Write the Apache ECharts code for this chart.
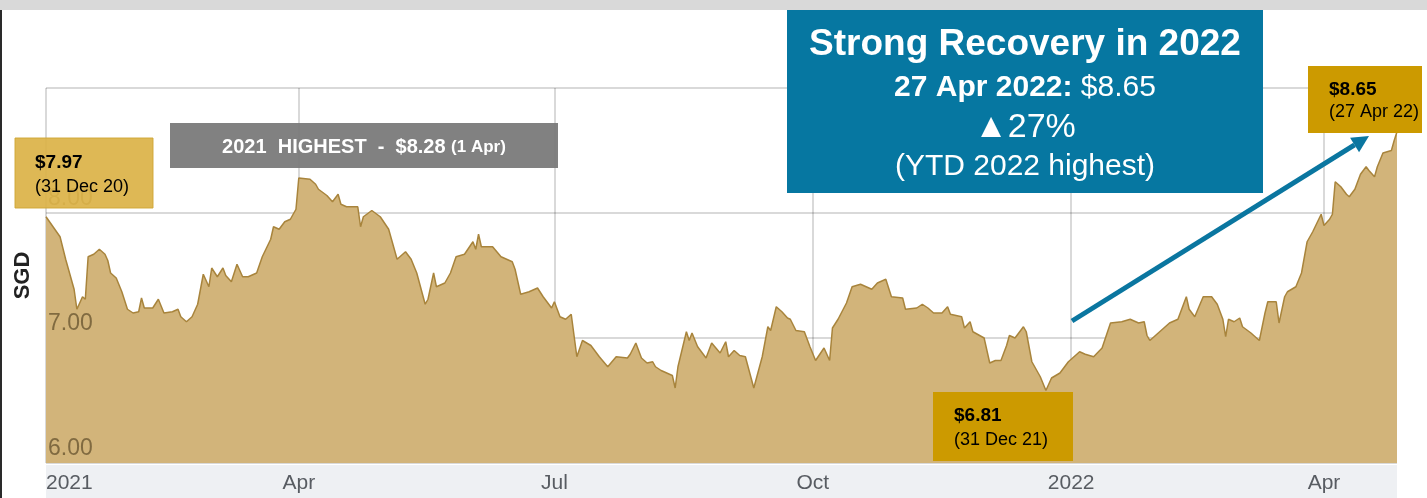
<!DOCTYPE html>
<html>
<head>
<meta charset="utf-8">
<script src="https://cdn.jsdelivr.net/npm/echarts@6/dist/echarts.min.js"></script>
<style>
html, body { margin: 0; padding: 0; background: #fff; }
#chart { width: 1427px; height: 498px; }
</style>
</head>
<body>
<div id="chart"></div>
<script>
// share price (SGD)
var priceDates = [
    '2021-01-01', '2021-01-06', '2021-01-08', '2021-01-11', '2021-01-12', '2021-01-14', '2021-01-15', '2021-01-16',
    '2021-01-18', '2021-01-20', '2021-01-22', '2021-01-23', '2021-01-24', '2021-01-26', '2021-01-28', '2021-01-30',
    '2021-02-01', '2021-02-03', '2021-02-04', '2021-02-05', '2021-02-08', '2021-02-10', '2021-02-12', '2021-02-15',
    '2021-02-17', '2021-02-18', '2021-02-20', '2021-02-22', '2021-02-24', '2021-02-26', '2021-02-28', '2021-03-01',
    '2021-03-03', '2021-03-05', '2021-03-06', '2021-03-08', '2021-03-10', '2021-03-12', '2021-03-14', '2021-03-17',
    '2021-03-19', '2021-03-22', '2021-03-23', '2021-03-25', '2021-03-27', '2021-03-29', '2021-03-31', '2021-04-01',
    '2021-04-05', '2021-04-07', '2021-04-08', '2021-04-11', '2021-04-13', '2021-04-15', '2021-04-16', '2021-04-18',
    '2021-04-22', '2021-04-23', '2021-04-24', '2021-04-27', '2021-04-30', '2021-05-03', '2021-05-04', '2021-05-06',
    '2021-05-09', '2021-05-11', '2021-05-13', '2021-05-16', '2021-05-17', '2021-05-19', '2021-05-20', '2021-05-23',
    '2021-05-25', '2021-05-27', '2021-05-30', '2021-06-02', '2021-06-03', '2021-06-04', '2021-06-05', '2021-06-09',
    '2021-06-12', '2021-06-16', '2021-06-17', '2021-06-19', '2021-06-22', '2021-06-25', '2021-06-27', '2021-06-30',
    '2021-07-01', '2021-07-03', '2021-07-05', '2021-07-07', '2021-07-09', '2021-07-11', '2021-07-14', '2021-07-17',
    '2021-07-20', '2021-07-23', '2021-07-27', '2021-07-28', '2021-07-30', '2021-08-01', '2021-08-03', '2021-08-05',
    '2021-08-06', '2021-08-08', '2021-08-12', '2021-08-13', '2021-08-14', '2021-08-17', '2021-08-18', '2021-08-19',
    '2021-08-21', '2021-08-22', '2021-08-24', '2021-08-26', '2021-08-29', '2021-08-31', '2021-09-01', '2021-09-03',
    '2021-09-05', '2021-09-07', '2021-09-10', '2021-09-13', '2021-09-15', '2021-09-16', '2021-09-18', '2021-09-20',
    '2021-09-22', '2021-09-23', '2021-09-25', '2021-09-28', '2021-09-30', '2021-10-02', '2021-10-05', '2021-10-07',
    '2021-10-08', '2021-10-10', '2021-10-13', '2021-10-15', '2021-10-18', '2021-10-20', '2021-10-22', '2021-10-24',
    '2021-10-27', '2021-10-29', '2021-11-02', '2021-11-03', '2021-11-07', '2021-11-09', '2021-11-11', '2021-11-13',
    '2021-11-16', '2021-11-18', '2021-11-19', '2021-11-23', '2021-11-24', '2021-11-26', '2021-11-27', '2021-12-01',
    '2021-12-03', '2021-12-05', '2021-12-07', '2021-12-09', '2021-12-10', '2021-12-12', '2021-12-15', '2021-12-16',
    '2021-12-18', '2021-12-21', '2021-12-23', '2021-12-25', '2021-12-28', '2021-12-30', '2021-12-31', '2022-01-04',
    '2022-01-06', '2022-01-09', '2022-01-12', '2022-01-15', '2022-01-19', '2022-01-22', '2022-01-25', '2022-01-27',
    '2022-01-28', '2022-01-29', '2022-02-01', '2022-02-05', '2022-02-08', '2022-02-11', '2022-02-12', '2022-02-14',
    '2022-02-17', '2022-02-20', '2022-02-22', '2022-02-24', '2022-02-25', '2022-02-26', '2022-02-28', '2022-03-02',
    '2022-03-03', '2022-03-06', '2022-03-09', '2022-03-11', '2022-03-12', '2022-03-15', '2022-03-16', '2022-03-18',
    '2022-03-19', '2022-03-22', '2022-03-24', '2022-03-26', '2022-03-28', '2022-03-31', '2022-04-01', '2022-04-03',
    '2022-04-04', '2022-04-05', '2022-04-07', '2022-04-09', '2022-04-10', '2022-04-12', '2022-04-14', '2022-04-16',
    '2022-04-17', '2022-04-19', '2022-04-20', '2022-04-22', '2022-04-25', '2022-04-26', '2022-04-27'
];
var priceValues = [
    7.97, 7.81, 7.63, 7.39, 7.23, 7.33, 7.31, 7.65,
    7.67, 7.71, 7.67, 7.62, 7.52, 7.48, 7.37, 7.23,
    7.20, 7.21, 7.32, 7.24, 7.24, 7.31, 7.20, 7.21,
    7.23, 7.17, 7.13, 7.17, 7.27, 7.51, 7.41, 7.56,
    7.49, 7.56, 7.50, 7.45, 7.59, 7.49, 7.49, 7.52,
    7.65, 7.79, 7.89, 7.87, 7.93, 7.95, 8.03, 8.28,
    8.27, 8.23, 8.19, 8.14, 8.09, 8.15, 8.07, 8.05,
    8.05, 7.89, 7.97, 8.02, 7.97, 7.87, 7.79, 7.63,
    7.69, 7.63, 7.52, 7.27, 7.31, 7.52, 7.41, 7.44,
    7.52, 7.65, 7.67, 7.77, 7.71, 7.83, 7.73, 7.73,
    7.65, 7.61, 7.55, 7.35, 7.37, 7.40, 7.33, 7.24,
    7.29, 7.17, 7.15, 7.19, 6.85, 6.98, 6.94, 6.85,
    6.77, 6.85, 6.84, 6.87, 6.96, 6.84, 6.80, 6.81,
    6.77, 6.74, 6.70, 6.60, 6.77, 7.05, 6.98, 7.04,
    6.93, 6.90, 6.84, 6.96, 6.88, 6.97, 6.85, 6.90,
    6.86, 6.85, 6.60, 6.85, 7.09, 7.06, 7.25, 7.21,
    7.16, 7.15, 7.06, 7.05, 6.93, 6.82, 6.92, 6.82,
    7.08, 7.15, 7.28, 7.41, 7.43, 7.41, 7.39, 7.44,
    7.47, 7.33, 7.32, 7.23, 7.24, 7.27, 7.24, 7.20,
    7.20, 7.25, 7.19, 7.17, 7.08, 7.13, 7.05, 7.00,
    6.80, 6.82, 6.82, 6.94, 7.02, 7.00, 7.09, 7.05,
    6.81, 6.69, 6.58, 6.68, 6.72, 6.78, 6.81, 6.89,
    6.87, 6.85, 6.92, 7.12, 7.13, 7.15, 7.12, 7.13,
    7.02, 6.98, 7.04, 7.12, 7.15, 7.33, 7.23, 7.17,
    7.33, 7.33, 7.27, 7.15, 7.01, 7.15, 7.13, 7.16,
    7.09, 7.04, 6.98, 7.20, 7.29, 7.29, 7.12, 7.33,
    7.37, 7.41, 7.52, 7.77, 7.85, 7.99, 7.90, 7.95,
    7.99, 8.25, 8.21, 8.15, 8.13, 8.19, 8.31, 8.37,
    8.34, 8.29, 8.37, 8.48, 8.50, 8.58, 8.65
];

var xTickDates = ['2021-01-01', '2021-04-01', '2021-07-01', '2021-10-01', '2022-01-01', '2022-04-01'];
var xTickLabels = ['2021', 'Apr', 'Jul', 'Oct', '2022', 'Apr'];
var xStart = '2021-01-01';
var xEnd = '2022-04-27';
var yMin = 6, yMax = 9, yStep = 1;

var FONT = '"Liberation Sans", Arial, sans-serif';

function toTime(s) {
    var p = s.split('-');
    return Date.UTC(+p[0], +p[1] - 1, +p[2]);
}

var tickTimes = xTickDates.map(toTime);
var seriesData = priceDates.map(function (d, i) { return [toTime(d), priceValues[i]]; });

// arrow head from two screen points
function arrowHead(from, to, len, half) {
    var dx = to[0] - from[0], dy = to[1] - from[1];
    var l = Math.sqrt(dx * dx + dy * dy);
    var ux = dx / l, uy = dy / l;
    var bx = to[0] - ux * len, by = to[1] - uy * len;
    return {
        base: [bx, by],
        points: [to, [bx - uy * half, by + ux * half], [bx + uy * half, by - ux * half]]
    };
}
var arrowFrom = [1072, 321], arrowTo = [1369, 136];
var head = arrowHead(arrowFrom, arrowTo, 17, 8.5);

function label(x, y, text, size, bold, color, align) {
    return {
        type: 'text', x: x, y: y, z: 20,
        style: {
            text: text, fill: color || '#000', fontSize: size, fontFamily: FONT,
            fontWeight: bold ? 'bold' : 'normal', align: align || 'left', verticalAlign: 'middle'
        }
    };
}
function box(x, y, w, h, fill, stroke, opacity) {
    return {
        type: 'rect', z: 15, shape: { x: x, y: y, width: w, height: h },
        style: { fill: fill, stroke: stroke || null, lineWidth: stroke ? 1 : 0, opacity: opacity || 1 }
    };
}

var chart = echarts.init(document.getElementById('chart'));

chart.setOption({
    animation: false,
    backgroundColor: '#fff',
    grid: { left: 46, right: 30, top: 88, bottom: 35 },
    xAxis: {
        type: 'value',
        min: toTime(xStart),
        max: toTime(xEnd),
        z: 3,
        axisLine: { show: false },
        axisTick: { show: false, customValues: tickTimes },
        axisLabel: {
            customValues: tickTimes,
            alignMinLabel: 'left',
            formatter: function (v) {
                for (var i = 0; i < tickTimes.length; i++) {
                    if (Math.abs(tickTimes[i] - v) < 43200000) return xTickLabels[i];
                }
                return '';
            },
            color: '#585c62', fontSize: 21, fontFamily: FONT, margin: 10
        },
        splitLine: { show: true, lineStyle: { color: 'rgba(0,0,0,0.15)', width: 2 } }
    },
    yAxis: {
        type: 'value',
        min: yMin, max: yMax, interval: yStep,
        z: 3,
        name: 'SGD',
        nameLocation: 'middle',
        nameRotate: 90,
        nameGap: 12,
        nameTextStyle: { fontWeight: 'bold', fontSize: 22, color: '#222', fontFamily: FONT },
        axisLine: { show: false },
        axisTick: { show: false },
        axisLabel: {
            inside: true,
            showMaxLabel: false,
            margin: 2,
            verticalAlign: 'bottom',
            padding: [0, 0, 3, 0],
            formatter: function (v) { return v.toFixed(2); },
            color: 'rgba(100,82,45,0.75)', fontSize: 23, fontFamily: FONT
        },
        splitLine: { lineStyle: { color: 'rgba(0,0,0,0.15)', width: 2 } }
    },
    series: [{
        type: 'line',
        data: seriesData,
        showSymbol: false,
        lineStyle: { color: '#a8843c', width: 1.5 },
        areaStyle: { color: '#d2b47a', opacity: 1 }
    }],
    graphic: {
        elements: [
            // frame bits
            { type: 'rect', z: 1, shape: { x: 0, y: 0, width: 1427, height: 10 }, style: { fill: '#d9d9d9' } },
            { type: 'rect', z: 1, shape: { x: 0, y: 10, width: 2, height: 488 }, style: { fill: '#2a2a2a' } },
            { type: 'rect', z: 1, shape: { x: 46, y: 465, width: 1351, height: 33 }, style: { fill: '#eef0f3' } },

            // start price
            box(15, 138, 138, 70, '#dbb246', '#cfa634', 0.92),
            label(35, 163, '$7.97', 19, true),
            label(35, 187, '(31 Dec 20)', 18, false),

            // 2021 high
            box(170, 123, 388, 45, '#777777', null, 0.93),
            {
                type: 'text', x: 364, y: 147, z: 20,
                style: {
                    text: '{a|2021  HIGHEST  -  $8.28 }{b|(1 Apr)}',
                    align: 'center', verticalAlign: 'middle',
                    rich: {
                        a: { fontSize: 20, fontWeight: 'bold', fill: '#fff', fontFamily: FONT },
                        b: { fontSize: 17, fontWeight: 'bold', fill: '#fff', fontFamily: FONT }
                    }
                }
            },

            // headline box
            box(787, 10, 476, 183, '#0677a1'),
            label(1025, 45, 'Strong Recovery in 2022', 37, true, '#fff', 'center'),
            {
                type: 'text', x: 1025, y: 88, z: 20,
                style: {
                    text: '{a|27 Apr 2022: }{b|$8.65}',
                    align: 'center', verticalAlign: 'middle',
                    rich: {
                        a: { fontSize: 30, fontWeight: 'bold', fill: '#fff', fontFamily: FONT },
                        b: { fontSize: 30, fill: '#fff', fontFamily: FONT }
                    }
                }
            },
            label(1025, 128, '\u25B227%', 34, false, '#fff', 'center'),
            label(1025, 167, '(YTD 2022 highest)', 30, false, '#fff', 'center'),

            // latest price
            box(1308, 66, 114, 67, '#cc9a00'),
            label(1329, 90, '$8.65', 19, true),
            label(1329, 112, '(27 Apr 22)', 18, false),

            // year end price
            box(933, 392, 140, 69, '#cc9a00'),
            label(954, 416, '$6.81', 19, true),
            label(954, 440, '(31 Dec 21)', 18, false),

            // arrow
            {
                type: 'line', z: 18,
                shape: { x1: arrowFrom[0], y1: arrowFrom[1], x2: head.base[0], y2: head.base[1] },
                style: { stroke: '#0a76a0', lineWidth: 5 }
            },
            {
                type: 'polygon', z: 18,
                shape: { points: head.points },
                style: { fill: '#0a76a0' }
            }
        ]
    }
});
</script>
</body>
</html>
